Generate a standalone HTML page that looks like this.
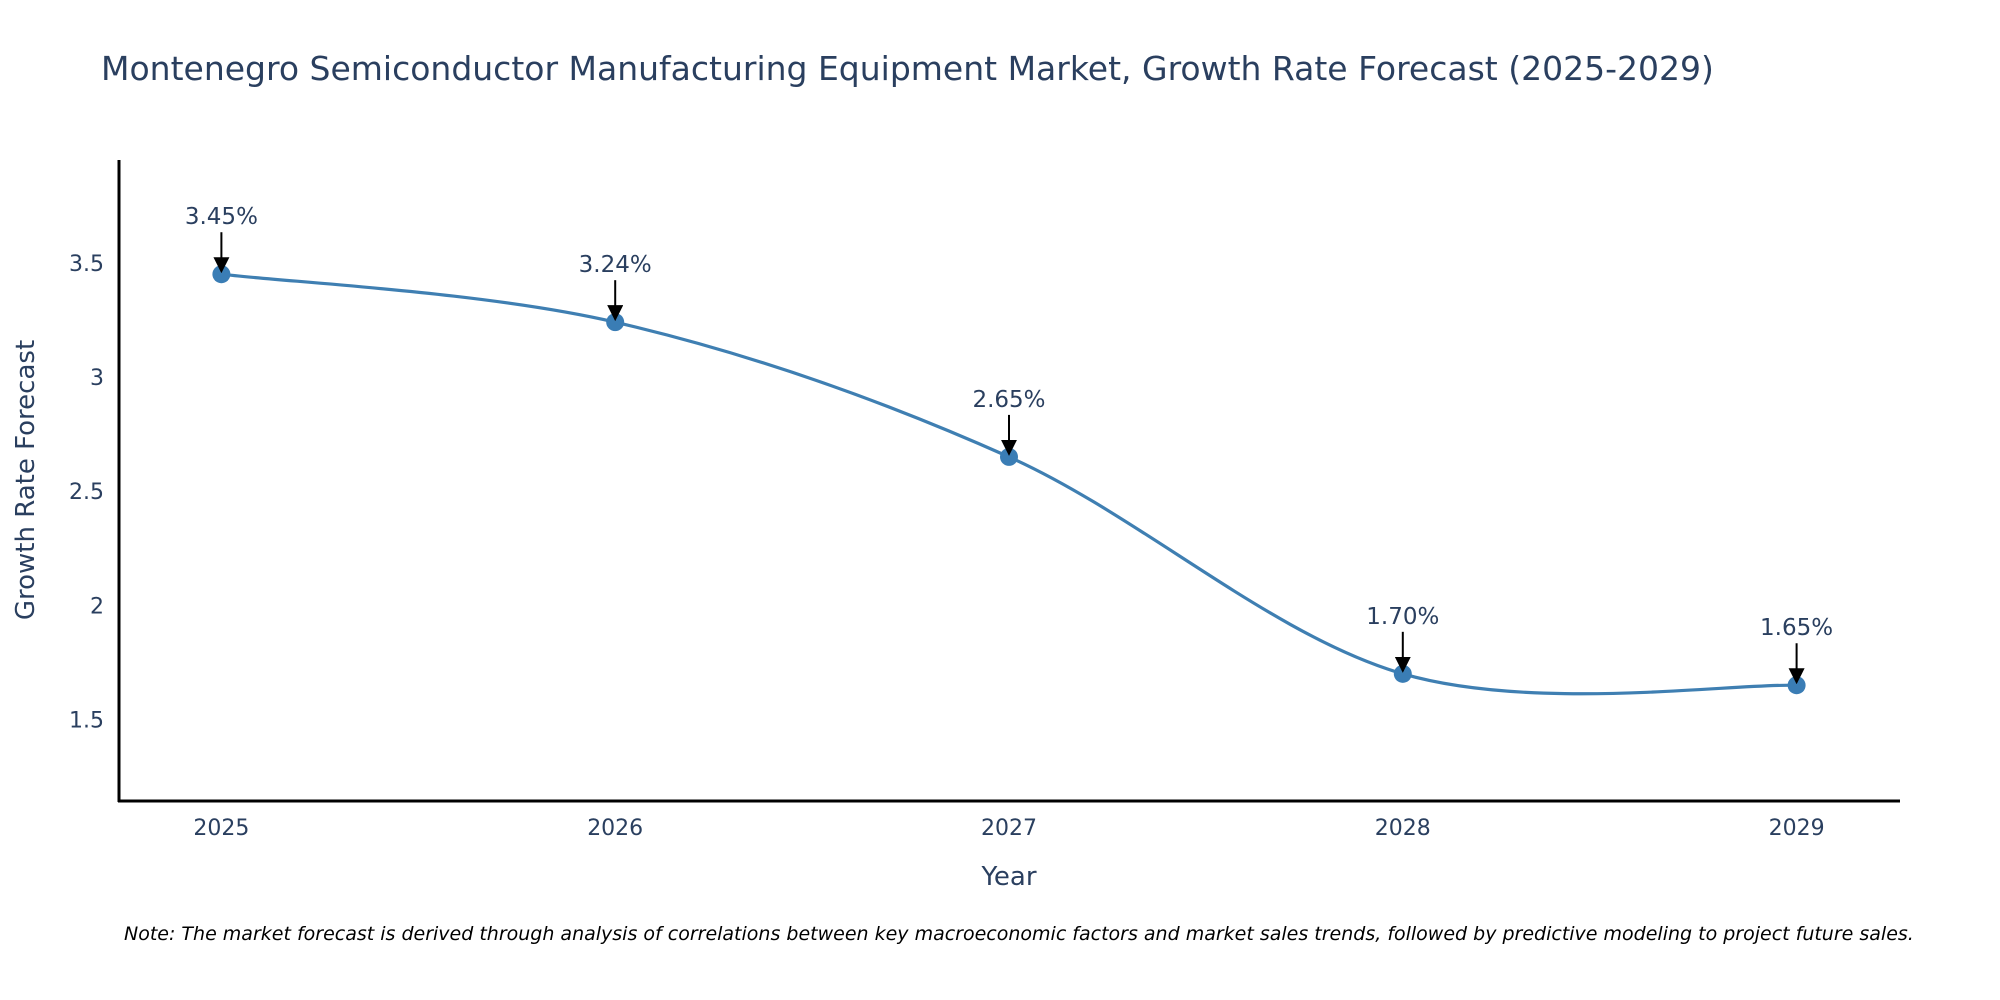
<!DOCTYPE html>
<html><head><meta charset="utf-8"><style>
body{margin:0;background:#fff}
svg{display:block;font-family:"DejaVu Sans","Liberation Sans",sans-serif}
</style></head><body>
<svg id="chart" width="2000" height="1000" viewBox="0 0 2000 1000">
<defs><marker id="ah" markerWidth="16" markerHeight="16" refX="14" refY="8" orient="auto" markerUnits="userSpaceOnUse" viewBox="0 0 16 16"><path d="M0,0 L16,8 L0,16 z" fill="#000"/></marker></defs>
<text x="101" y="80" font-size="33" fill="#2a3f5f">Montenegro Semiconductor Manufacturing Equipment Market, Growth Rate Forecast (2025-2029)</text>
<g id="yticks"></g>
<g id="xticks"></g>
<line x1="119" y1="160" x2="119" y2="802" stroke="#000" stroke-width="3"/>
<line x1="118" y1="801" x2="1900" y2="801" stroke="#000" stroke-width="3"/>
<text transform="translate(34,480) rotate(-90)" text-anchor="middle" font-size="26" fill="#2a3f5f">Growth Rate Forecast</text>
<text x="1009" y="885" text-anchor="middle" font-size="26" fill="#2a3f5f">Year</text>
<g id="series"></g>
<g id="annots"></g>
<text x="124" y="940" font-size="19" font-style="italic" fill="#000">Note: The market forecast is derived through analysis of correlations between key macroeconomic factors and market sales trends, followed by predictive modeling to project future sales.</text>
</svg>
<script>
const years = [2025, 2026, 2027, 2028, 2029];
const growth = [3.45, 3.24, 2.65, 1.70, 1.65];
const valueLabels = ["3.45%", "3.24%", "2.65%", "1.70%", "1.65%"];
const yTickValues = [1.5, 2, 2.5, 3, 3.5];
const yTickLabels = ["1.5", "2", "2.5", "3", "3.5"];

const NS = "http://www.w3.org/2000/svg";
function X(yr){ return 221.4 + (yr - 2025) * 393.8; }
function Y(v){ return 262.8 + (3.5 - v) * 228.35; }
function mk(tag, attrs, parent){ const e = document.createElementNS(NS, tag); for (const k in attrs) e.setAttribute(k, attrs[k]); parent.appendChild(e); return e; }

const yt = document.getElementById('yticks');
yTickValues.forEach((v, i) => {
  const t = mk('text', {x: 104, y: Y(v) + 8, 'text-anchor': 'end', 'font-size': 22, fill: '#2a3f5f'}, yt);
  
  
  t.textContent = yTickLabels[i];
});
const xt = document.getElementById('xticks');
years.forEach(yr => {
  const t = mk('text', {x: X(yr), y: 835, 'text-anchor': 'middle', 'font-size': 22, fill: '#2a3f5f'}, xt);
  
  
  t.textContent = String(yr);
});

const pts = years.map((yr, i) => [X(yr), Y(growth[i])]);
let d = `M${pts[0][0]},${pts[0][1]}`;
for (let i = 0; i < pts.length - 1; i++) {
  const p0 = pts[Math.max(0, i - 1)], p1 = pts[i], p2 = pts[i + 1], p3 = pts[Math.min(pts.length - 1, i + 2)];
  const c1 = [p1[0] + (p2[0] - p0[0]) / 6, p1[1] + (p2[1] - p0[1]) / 6];
  const c2 = [p2[0] - (p3[0] - p1[0]) / 6, p2[1] - (p3[1] - p1[1]) / 6];
  d += ` C${c1[0]},${c1[1]} ${c2[0]},${c2[1]} ${p2[0]},${p2[1]}`;
}
const s = document.getElementById('series');
const line = mk('path', {d: d, fill: 'none', stroke: '#3f7fb2', 'stroke-width': 3.2}, s);


pts.forEach(p => {
  const c = mk('circle', {cx: p[0], cy: p[1], r: 9, fill: '#3a7db5'}, s);
  
  
});

const an = document.getElementById('annots');
pts.forEach((p, i) => {
  const a = mk('line', {x1: p[0], y1: p[1] - 42, x2: p[0], y2: p[1] - 3, stroke: '#000', 'stroke-width': 2, 'marker-end': 'url(#ah)'}, an);
  
  
  const t = mk('text', {x: p[0], y: p[1] - 50, 'text-anchor': 'middle', 'font-size': 23, fill: '#2a3f5f'}, an);
  
  
  t.textContent = valueLabels[i];
});
</script>
</body></html>
